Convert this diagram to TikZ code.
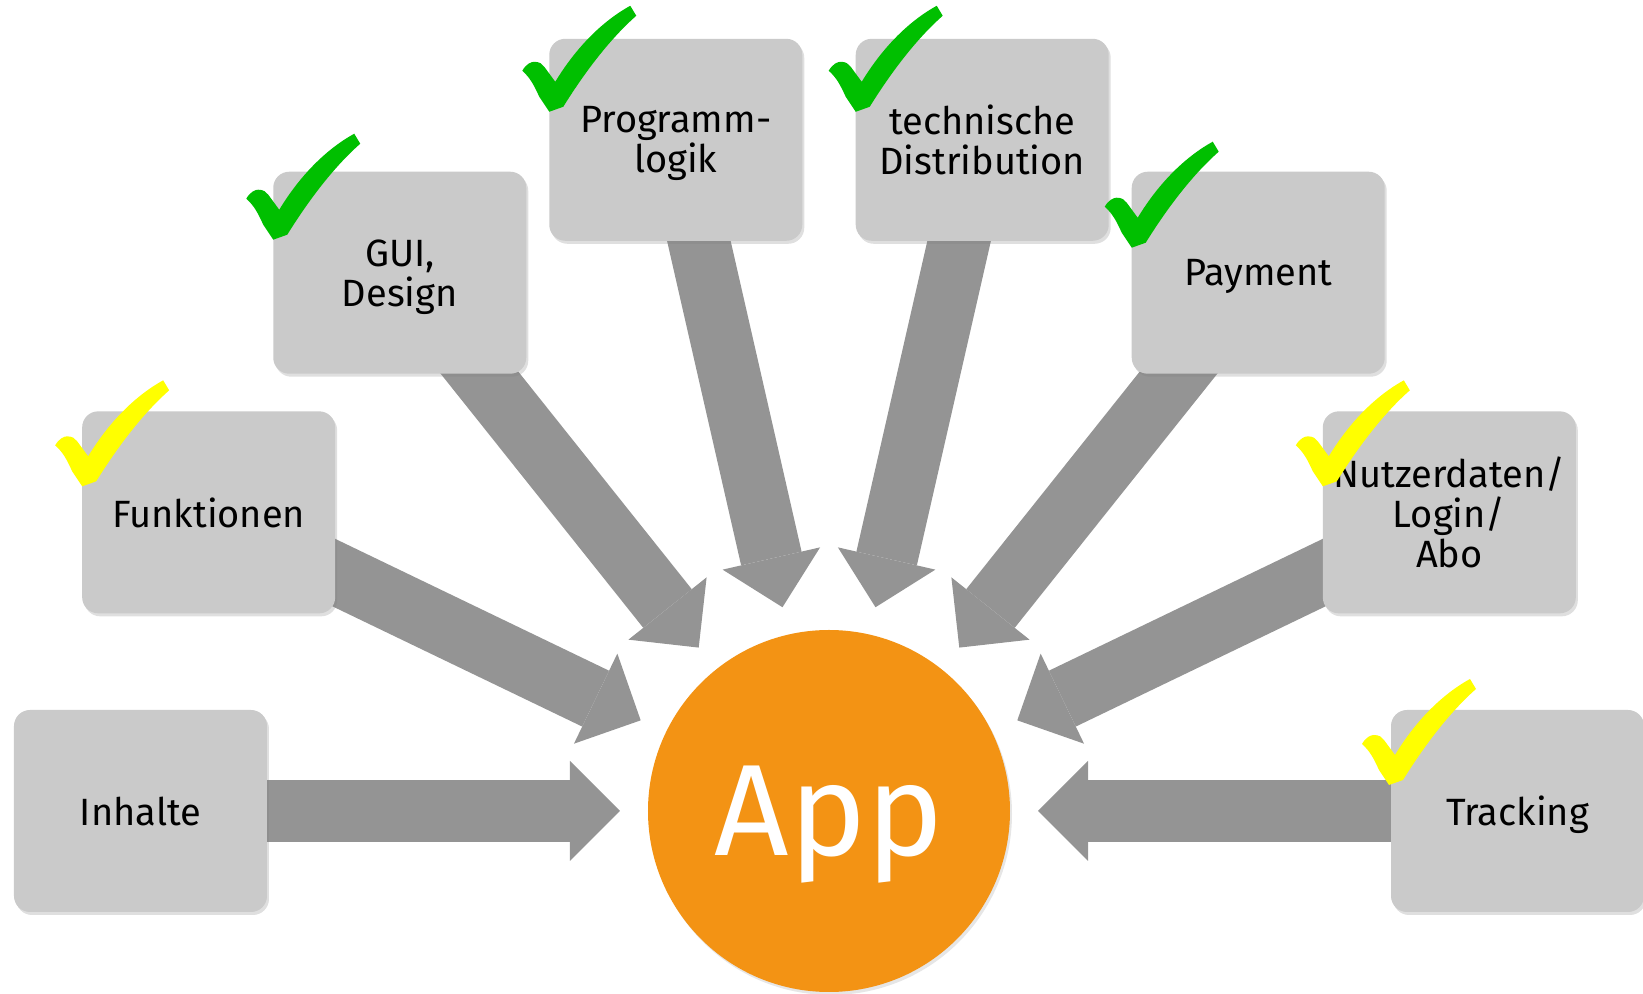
\documentclass[tikz,border=0pt]{standalone}
\usepackage{fontspec}
\setmainfont{Fira Sans}
\usetikzlibrary{arrows.meta, shadows, backgrounds}

\definecolor{boxgray}{HTML}{CACACA}
\definecolor{arrowgray}{HTML}{949494}
\definecolor{apporange}{HTML}{F39314}
\definecolor{tickgreen}{HTML}{00BF00}
\definecolor{tickyellow}{HTML}{FFFF00}

\begin{document}
\begin{tikzpicture}[
  x=0.5pt, y=0.5pt,
  topic node/.style={
    fill=boxgray, rounded corners=8pt, outer sep=0pt,
    minimum width=126.5pt, minimum height=101pt,
    align=center, font=\fontsize{19}{20}\selectfont, text depth=0pt,
    drop shadow={shadow xshift=1pt, shadow yshift=-1.5pt, opacity=0.25}
  },
  app node/.style={
    circle, fill=apporange, minimum size=181pt, inner sep=0pt, outer sep=0pt,
    text=white, font=\fontsize{65}{65}\selectfont,
    text height=45pt, text depth=0pt,
    drop shadow={shadow xshift=1pt, shadow yshift=-1.5pt, opacity=0.2}
  },
  block arrow/.style={
    draw=arrowgray, line width=31pt, shorten >=14pt,
    -{Triangle[width=50pt, length=25pt, line width=0pt]}
  },
  pics/tick/.style={
    code={
      \fill[#1] (0,0) -- (-10,15) .. controls (-15,26) and (-19,34) .. (-27,41)
        .. controls (-23,48) and (-18,50) .. (-15,50)
        .. controls (-10,50) and (-7,48) .. (-5,45) -- (6,30)
        .. controls (26,63) and (52,90) .. (81,106) -- (87,96)
        .. controls (62,74) and (37,42) .. (14,5) -- cycle;
    }
  }
  ]
  \useasboundingbox (-829,-183) rectangle (814,811);

  \node[app node] (app) at (0,0) {App};

  \node[topic node] (inhalte)      at (180:688.5)    {Inhalte};
  \node[topic node] (funktionen)   at (154.29:688.5) {Funktionen};
  \node[topic node] (gui)          at (128.57:688.5) {GUI,\\Design};
  \node[topic node] (logik)        at (102.86:688.5) {Programm-\\logik};
  \node[topic node] (distribution) at (77.14:688.5)  {technische\\Distribution};
  \node[topic node] (payment)      at (51.43:688.5)  {Payment};
  \node[topic node] (nutzer)       at (25.71:688.5)  {Nutzerdaten/\\Login/\\Abo};
  \node[topic node] (tracking)     at (0:688.5)      {Tracking};

  \begin{scope}[on background layer]
    \foreach \topic in {inhalte, funktionen, gui, logik, distribution, payment, nutzer, tracking}
      \draw[block arrow] (\topic.center) -- (app);
  \end{scope}

  % ticks
  \pic at ([yshift=-37.5pt]funktionen.north west)   {tick=tickyellow};
  \pic at ([yshift=-34pt]gui.north west)            {tick=tickgreen};
  \pic at ([yshift=-36.5pt]logik.north west)        {tick=tickgreen};
  \pic at ([yshift=-36.5pt]distribution.north west) {tick=tickgreen};
  \pic at ([yshift=-38pt]payment.north west)        {tick=tickgreen};
  \pic at ([yshift=-37.5pt]nutzer.north west)       {tick=tickyellow};
  \pic at ([xshift=-1pt, yshift=-37.5pt]tracking.north west) {tick=tickyellow};
\end{tikzpicture}
\end{document}
